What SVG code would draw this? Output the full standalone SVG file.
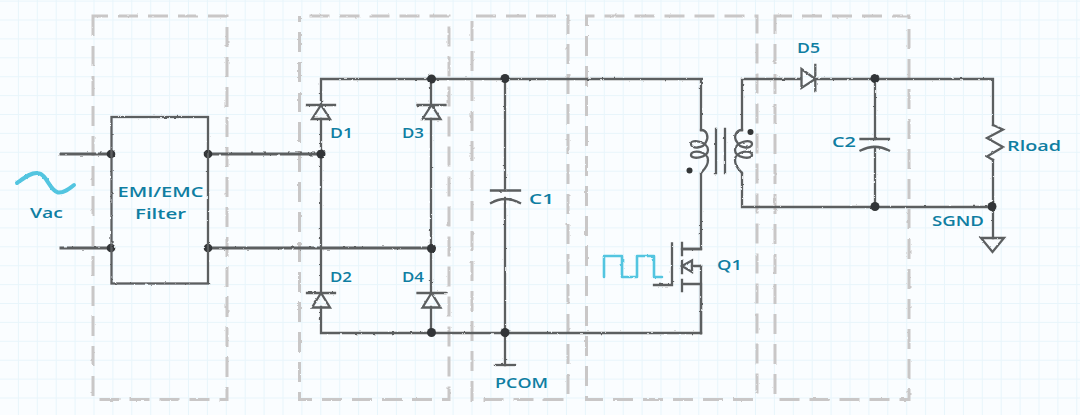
<svg xmlns="http://www.w3.org/2000/svg" width="1080" height="415" viewBox="0 0 1080 415">
<style>
.w{fill:none;stroke:#5c5f61;stroke-width:2.3;stroke-linecap:square;stroke-linejoin:miter}
.t{stroke-width:3}
.d{fill:none;stroke:#c9c7c7;stroke-width:3;stroke-dasharray:20 10}
.s{fill:none;stroke:#52c5e0;stroke-linejoin:round;stroke-linecap:round}
.j{fill:#333637;stroke:none}
text{font-family:"Open Sans","Liberation Sans",sans-serif;font-size:15px;font-weight:600;fill:#0f7ea2}
</style>
<defs>
<pattern id="grid" x="0" y="1.6" width="18.9" height="18.9" patternUnits="userSpaceOnUse">
<path d="M18.4 0V18.9M0 18.4H18.9" fill="none" stroke="#e8f5fb" stroke-width="1.1"/>
</pattern>
<filter id="rough" filterUnits="userSpaceOnUse" x="0" y="0" width="1080" height="415">
<feTurbulence type="fractalNoise" baseFrequency="0.22" numOctaves="2" seed="4"/>
<feDisplacementMap in="SourceGraphic" scale="2.2" xChannelSelector="R" yChannelSelector="G"/>
</filter>
</defs>
<rect width="1080" height="415" fill="#fafdff"/>
<rect width="1080" height="415" fill="url(#grid)"/>

<g id="regions" filter="url(#rough)">
<path class="d" stroke-dashoffset="5" d="M93 16H227V399.500H93Z"/>
<path class="d" stroke-dashoffset="20" d="M299.500 16H449V399.500H299.500Z"/>
<path class="d" stroke-dashoffset="26" d="M472 16H568V399.500H472Z"/>
<path class="d" stroke-dashoffset="12" d="M586.500 16H757V399.500H586.500Z"/>
<path class="d" stroke-dashoffset="3" d="M775 16H909V399.500H775Z"/>
</g>

<g id="connectors" filter="url(#rough)">
<path class="w t" d="M61 154H111M61 248H111M208 154H321M208 248H431"/>
<path class="w" d="M321 79H701V130M321 79V105M431 79V105M505 79V190M505 200V333M321 119V293M431 119V293M321 307V333H701M431 307V333M505 333V365"/>
<path class="w" d="M701 173V249H682M701 266V333"/>
<path class="w" d="M742 130V79H801M815 79H993V125M742 173V207H993M993 160V207M875 79V139M875 148V207M993 207V238"/>
<g id="junctions">
<circle class="j" cx="111" cy="154" r="4.300"/><circle class="j" cx="208" cy="154" r="4.300"/>
<circle class="j" cx="111" cy="248" r="4.300"/><circle class="j" cx="208" cy="248" r="4.300"/>
<circle class="j" cx="321" cy="154" r="4.500"/><circle class="j" cx="431.500" cy="79" r="4.500"/>
<circle class="j" cx="505" cy="78.500" r="4.500"/><circle class="j" cx="431.500" cy="248.500" r="4.500"/>
<circle class="j" cx="431.500" cy="332.500" r="4.500"/><circle class="j" cx="505" cy="332.500" r="4.500"/>
<circle class="j" cx="875" cy="78.500" r="4.500"/><circle class="j" cx="875" cy="206.500" r="4.500"/>
<circle class="j" cx="992" cy="206.500" r="4.500"/>
</g>
</g>

<g id="vac">
<path class="s" stroke-width="4" filter="url(#rough)" d="M17 183C24 178 31 172 38 173C47 174 49 190 58 192.500C64 193 69 189 74 185"/>
<text x="30" y="218" textLength="33" lengthAdjust="spacingAndGlyphs">Vac</text>
</g>

<g id="filter-block">
<rect class="w" x="111.500" y="117" width="96.500" height="166.500" filter="url(#rough)"/>
<text x="117.500" y="196.500" textLength="86" lengthAdjust="spacingAndGlyphs">EMI/EMC</text>
<text x="135" y="219" textLength="51" lengthAdjust="spacingAndGlyphs">Filter</text>
</g>

<g id="D1">
<path class="w" filter="url(#rough)" d="M307 105H335M321 105L312 119H330Z"/>
<text x="330" y="138" textLength="23" lengthAdjust="spacingAndGlyphs">D1</text>
</g>
<g id="D3">
<path class="w" filter="url(#rough)" d="M417.500 105H445.500M431.500 105L422.500 119H440.500Z"/>
<text x="402" y="138" textLength="22" lengthAdjust="spacingAndGlyphs">D3</text>
</g>
<g id="D2">
<path class="w" filter="url(#rough)" d="M307 293H335M321 293L312 307.500H330Z"/>
<text x="330" y="281.500" textLength="22" lengthAdjust="spacingAndGlyphs">D2</text>
</g>
<g id="D4">
<path class="w" filter="url(#rough)" d="M417.500 293H445.500M431.500 293L422.500 307.500H440.500Z"/>
<text x="402" y="281.500" textLength="22" lengthAdjust="spacingAndGlyphs">D4</text>
</g>

<g id="C1">
<path class="w" filter="url(#rough)" d="M491 190.500H520M491 203Q505 195 520 203"/>
<text x="529" y="204" textLength="25" lengthAdjust="spacingAndGlyphs">C1</text>
</g>

<g id="PCOM">
<path class="w" filter="url(#rough)" d="M496 365H515"/>
<text x="495" y="388" textLength="53" lengthAdjust="spacingAndGlyphs">PCOM</text>
</g>

<g id="Q1">
<path class="s" stroke-width="2.600" filter="url(#rough)" d="M604 277V256H622V277H637V256H654V277H662"/>
<path class="w" filter="url(#rough)" d="M672 243.500V285H654M682 243V255M682 262V273M682 280V291M682 249H701M682 284H701V333M692 266H701"/>
<path class="w" filter="url(#rough)" d="M682 266L692 260.500V272Z"/>
<text x="717" y="270" textLength="25" lengthAdjust="spacingAndGlyphs">Q1</text>
</g>

<g id="T1">
<path class="w" stroke-width="2.600" filter="url(#rough)" d="M701 130C707 130 709 137 706 142C703 149 691 149 691 144C691 138 708 142 708 150C708 158 691 160 691 155C691 149 708 151 708 160C708 168 701 172 701 173"/>
<path class="w" stroke-width="2.600" filter="url(#rough)" d="M742 130C736 130 733 137 737 142C740 149 752 149 752 144C752 138 735 142 735 150C735 158 752 160 752 155C752 149 735 151 735 160C735 168 742 172 742 173"/>
<path class="w" filter="url(#rough)" d="M716 129V173M725 129V173"/>
<circle class="j" cx="689.500" cy="170.500" r="3"/><circle class="j" cx="750.500" cy="132" r="3"/>
</g>

<g id="D5">
<path class="w" filter="url(#rough)" d="M815.300 65V91M815.300 79L801.500 69V88Z"/>
<text x="797" y="53" textLength="23" lengthAdjust="spacingAndGlyphs">D5</text>
</g>

<g id="C2">
<path class="w" filter="url(#rough)" d="M860.500 139H889M860.500 150.500Q875 143 889 150.500"/>
<text x="832" y="147" textLength="24" lengthAdjust="spacingAndGlyphs">C2</text>
</g>

<g id="Rload">
<path class="w" filter="url(#rough)" d="M993 125L1003 129.500L987 138L1003 147L987 156.500L993 160"/>
<text x="1007" y="150.500" textLength="54" lengthAdjust="spacingAndGlyphs">Rload</text>
</g>

<g id="SGND">
<path class="w" filter="url(#rough)" d="M981 238H1004L992.500 252Z"/>
<text x="932" y="225.500" textLength="52" lengthAdjust="spacingAndGlyphs">SGND</text>
</g>
</svg>
